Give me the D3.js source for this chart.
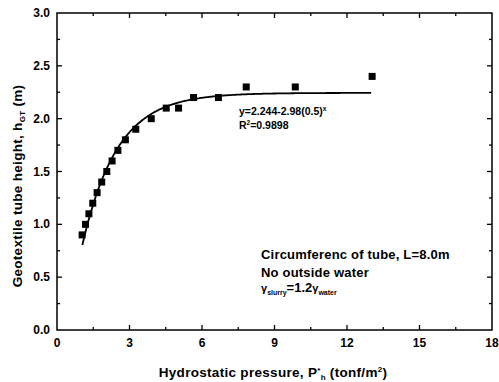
<!DOCTYPE html>
<html>
<head>
<meta charset="utf-8">
<script src="https://cdn.jsdelivr.net/npm/d3@7"></script>
<style>
  html, body { margin: 0; padding: 0; background: #fff; }
  svg { display: block; }
  text { font-family: "Liberation Sans", Arial, sans-serif; font-weight: bold; fill: #000; }
</style>
</head>
<body>
<svg id="chart" width="499" height="382"></svg>
<script>
// Measured tube height versus hydrostatic pressure
const pressure = [1.04, 1.18, 1.32, 1.48, 1.66, 1.85, 2.06, 2.28, 2.52, 2.83,
                  3.26, 3.90, 4.52, 5.03, 5.65, 6.68, 7.83, 9.86, 13.04];
const height   = [0.90, 1.00, 1.10, 1.20, 1.30, 1.40, 1.50, 1.60, 1.70, 1.80,
                  1.90, 2.00, 2.10, 2.10, 2.20, 2.20, 2.30, 2.30, 2.40];

// Fitted curve y = a - b * c^x
const fitA = 2.244, fitB = 2.98, fitC = 0.5;
const fitRange = [1.05, 13.0];

const xTicks = [0, 3, 6, 9, 12, 15, 18];
const yTicks = [0.0, 0.5, 1.0, 1.5, 2.0, 2.5, 3.0];
const xMinorTicks = [1.5, 4.5, 7.5, 10.5, 13.5, 16.5];
const yMinorTicks = [0.25, 0.75, 1.25, 1.75, 2.25, 2.75];

const svg = d3.select("#chart");
const L = 57, R = 492, T = 13, B = 330;

const x = d3.scaleLinear().domain([0, 18]).range([L, R]);
const y = d3.scaleLinear().domain([0, 3]).range([B, T]);

// frame
svg.append("rect")
  .attr("x", L).attr("y", T).attr("width", R - L).attr("height", B - T)
  .attr("fill", "none").attr("stroke", "#000").attr("stroke-width", 1.5);

// ticks pointing inward on all four sides
const tickG = svg.append("g").attr("stroke", "#000").attr("stroke-width", 1.3);
function ticks(vals, len) {
  vals.forEach(v => {
    if (v > 0 && v < 18) {
      tickG.append("line").attr("x1", x(v)).attr("x2", x(v)).attr("y1", B).attr("y2", B - len);
      tickG.append("line").attr("x1", x(v)).attr("x2", x(v)).attr("y1", T).attr("y2", T + len);
    }
  });
}
function yticks(vals, len) {
  vals.forEach(v => {
    if (v > 0 && v < 3) {
      tickG.append("line").attr("x1", L).attr("x2", L + len).attr("y1", y(v)).attr("y2", y(v));
      tickG.append("line").attr("x1", R).attr("x2", R - len).attr("y1", y(v)).attr("y2", y(v));
    }
  });
}
ticks(xTicks, 5); ticks(xMinorTicks, 3);
yticks(yTicks, 5); yticks(yMinorTicks, 3);

// tick labels
svg.append("g").selectAll("text").data(xTicks).join("text")
  .attr("x", d => x(d)).attr("y", 347)
  .attr("text-anchor", "middle").attr("font-size", 12)
  .text(d => d);
svg.append("g").selectAll("text").data(yTicks).join("text")
  .attr("x", 50).attr("y", d => y(d) + 4)
  .attr("text-anchor", "end").attr("font-size", 12)
  .text(d => d.toFixed(1));

// axis titles
const xt = svg.append("text").attr("x", 273).attr("y", 377)
  .attr("text-anchor", "middle").attr("font-size", 13.5)
  .attr("letter-spacing", 0.3);
xt.append("tspan").text("Hydrostatic pressure, P");
xt.append("tspan").attr("font-size", 8).attr("dy", -4).text("*");
xt.append("tspan").attr("font-size", 8).attr("dy", 7).text("h");
xt.append("tspan").attr("dy", -3).text(" (tonf/m");
xt.append("tspan").attr("font-size", 8).attr("dy", -5).text("2");
xt.append("tspan").attr("dy", 5).text(")");

const yt = svg.append("text")
  .attr("transform", "translate(22,186) rotate(-90)")
  .attr("text-anchor", "middle").attr("font-size", 13.5)
  .attr("letter-spacing", 0.3);
yt.append("tspan").text("Geotextile tube height, h");
yt.append("tspan").attr("font-size", 8).attr("dy", 3).text("GT");
yt.append("tspan").attr("dy", -3).text(" (m)");

// fitted curve
const fitX = d3.range(fitRange[0], fitRange[1] + 0.001, 0.05);
const line = d3.line().x(d => x(d)).y(d => y(fitA - fitB * Math.pow(fitC, d)));
svg.append("path").datum(fitX)
  .attr("d", line).attr("fill", "none")
  .attr("stroke", "#000").attr("stroke-width", 1.8);

// data points
const s = 7;
svg.append("g").selectAll("rect").data(pressure).join("rect")
  .attr("x", (d) => x(d) - s / 2)
  .attr("y", (d, i) => y(height[i]) - s / 2)
  .attr("width", s).attr("height", s).attr("fill", "#000");

// fit equation
const eq = svg.append("text").attr("x", 239).attr("y", 115).attr("font-size", 10.5);
eq.append("tspan").text("y=" + fitA + "-" + fitB + "(" + fitC + ")");
eq.append("tspan").attr("font-size", 6.5).attr("dy", -4).text("x");
svg.append("text").attr("x", 239).attr("y", 129).attr("font-size", 10.5)
  .call(t => {
    t.append("tspan").text("R");
    t.append("tspan").attr("font-size", 6.5).attr("dy", -4).text("2");
    t.append("tspan").attr("dy", 4).text("=0.9898");
  });

// test conditions
svg.append("text").attr("x", 261).attr("y", 259).attr("font-size", 13)
  .attr("letter-spacing", 0.2)
  .text("Circumferenc of tube, L=8.0m");
svg.append("text").attr("x", 261).attr("y", 277).attr("font-size", 13)
  .attr("letter-spacing", 0.2)
  .text("No outside water");
const g3 = svg.append("text").attr("x", 261).attr("y", 292).attr("font-size", 13);
g3.append("tspan").attr("font-size", 11).text("γ");
g3.append("tspan").attr("font-size", 7).attr("dy", 3).text("slurry");
g3.append("tspan").attr("dy", -3).text("=1.2");
g3.append("tspan").attr("font-size", 11).text("γ");
g3.append("tspan").attr("font-size", 7).attr("dy", 3).text("water");
</script>
</body>
</html>
